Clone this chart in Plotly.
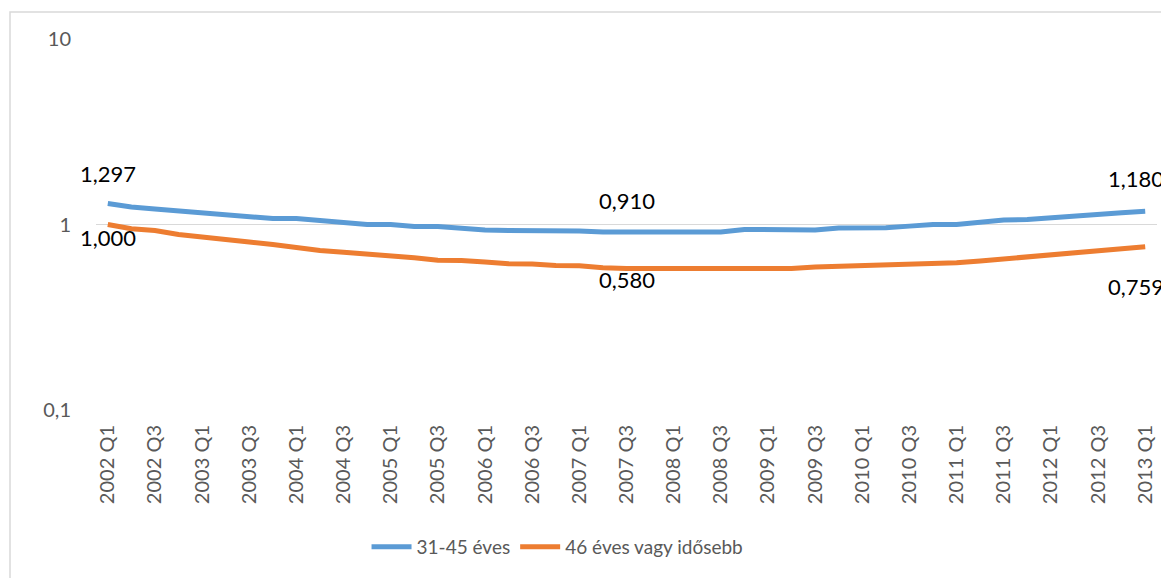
import math
import plotly.graph_objects as go

quarters = [f"{y} Q{q}" for y in range(2002, 2014) for q in range(1, 5)][:45]

blue_name = "31-45 éves"
orange_name = "46 éves vagy idősebb"

blue = [1.297, 1.243, 1.212, 1.182, 1.153, 1.125, 1.098, 1.077, 1.077, 1.051,
        1.025, 1.000, 1.000, 0.975, 0.975, 0.951, 0.934, 0.928, 0.928, 0.928,
        0.922, 0.912, 0.910, 0.910, 0.910, 0.910, 0.910, 0.940, 0.940, 0.935,
        0.935, 0.958, 0.958, 0.960, 0.980, 1.000, 1.000, 1.030, 1.057, 1.064,
        1.090, 1.115, 1.135, 1.158, 1.180]

orange = [1.000, 0.948, 0.928, 0.883, 0.856, 0.825, 0.805, 0.780, 0.747, 0.724,
          0.709, 0.695, 0.678, 0.661, 0.642, 0.640, 0.628, 0.614, 0.612, 0.601,
          0.600, 0.585, 0.580, 0.580, 0.580, 0.580, 0.580, 0.580, 0.580, 0.580,
          0.590, 0.595, 0.600, 0.610, 0.610, 0.620, 0.622, 0.636, 0.651, 0.666,
          0.683, 0.701, 0.720, 0.739, 0.759]

y_ticks = [0.1, 1, 10]
y_tick_text = ["0,1", "1", "10"]

# labelled points: (series, index, x offset px, y offset px)
labels = [("blue", 0, 0, 30), ("orange", 0, 0, -13), ("blue", 22, 0, 32),
          ("orange", 22, 0, -11), ("blue", 44, -9, 33), ("orange", 44, -9, -40)]

FONT = "Lato"
BLUE = "#5B9BD5"
ORANGE = "#ED7D31"

# page body adds an 8px offset; margins compensate
L, T, R, B = 88, 31, 20, 176
PW, PH = 1169 - L - R, 578 - T - B

fig = go.Figure()
fig.add_trace(go.Scatter(x=quarters, y=blue, mode="lines", name=blue_name,
                         line=dict(color=BLUE, width=5)))
fig.add_trace(go.Scatter(x=quarters, y=orange, mode="lines", name=orange_name,
                         line=dict(color=ORANGE, width=5)))

series = {"blue": blue, "orange": orange}
for s, i, dx, dy in labels:
    v = series[s][i]
    fig.add_annotation(x=quarters[i], y=math.log10(v), xref="x", yref="y",
                       text=f"{v:.3f}".replace(".", ","), showarrow=False,
                       xshift=dx, yshift=dy,
                       font=dict(family=FONT, size=22, color="#000000"))

fig.add_shape(type="rect", xref="paper", yref="paper",
              x0=(2 - L) / PW, x1=(1200 - L) / PW,
              y0=-(620 - T - PH) / PH, y1=1 + (T - 4) / PH,
              line=dict(color="#D9D9D9", width=1.5), fillcolor="rgba(0,0,0,0)",
              layer="below")

fig.update_layout(
    width=1169, height=578,
    margin=dict(l=L, r=R, t=T, b=B, autoexpand=False),
    paper_bgcolor="white", plot_bgcolor="white",
    font=dict(family=FONT, size=16, color="#595959"),
    showlegend=True,
    legend=dict(orientation="h", x=0.435, xanchor="center", y=-0.369, yanchor="middle",
                font=dict(family=FONT, size=19, color="#595959"), itemwidth=40,
                traceorder="normal"),
)
fig.update_xaxes(type="category", range=[-0.5, len(quarters) - 0.5],
                 tickvals=quarters[::2], ticktext=quarters[::2],
                 tickangle=-90, showgrid=False, zeroline=False, showline=False,
                 automargin=False,
                 ticks="outside", ticklen=6, tickcolor="rgba(0,0,0,0)",
                 tickfont=dict(family=FONT, size=20, color="#595959"))
fig.update_yaxes(type="log", range=[-1, 1], tickvals=y_ticks, ticktext=y_tick_text,
                 showgrid=True, gridcolor="#D9D9D9", gridwidth=1.3, zeroline=False,
                 showline=False, automargin=False, ticks="outside", ticklen=20,
                 tickcolor="rgba(0,0,0,0)",
                 tickfont=dict(family=FONT, size=20, color="#595959"))

fig.write_html("out.html")
